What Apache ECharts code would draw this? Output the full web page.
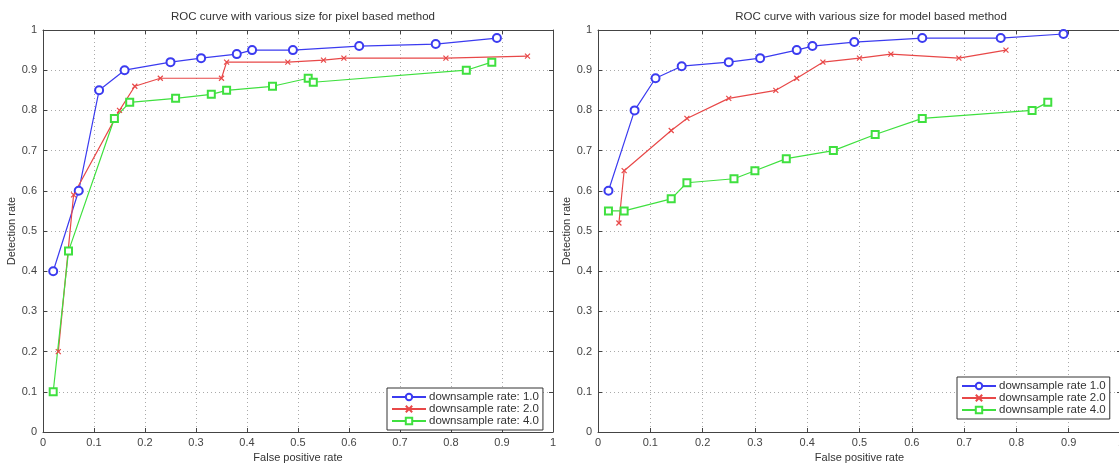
<!DOCTYPE html>
<html>
<head>
<meta charset="utf-8">
<script src="https://cdn.jsdelivr.net/npm/echarts@6/dist/echarts.min.js"></script>
<style>
html,body{margin:0;padding:0;background:#fff;overflow:hidden;}
#chart{width:1119px;height:464px;}
</style>
</head>
<body>
<div id="chart"></div>
<script>
// ---- Data ----
const xTicks = [0, 0.1, 0.2, 0.3, 0.4, 0.5, 0.6, 0.7, 0.8, 0.9, 1];
const yTicks = [0, 0.1, 0.2, 0.3, 0.4, 0.5, 0.6, 0.7, 0.8, 0.9, 1];

const leftTitle = "ROC curve with various size for pixel based method";
const rightTitle = "ROC curve with various size for model based method";
const leftNames = ["downsample rate: 1.0", "downsample rate: 2.0", "downsample rate: 4.0"];
const rightNames = ["downsample rate 1.0", "downsample rate 2.0", "downsample rate 4.0"];

// Pixel based method
const pixelFpr1 = [0.02, 0.07, 0.11, 0.16, 0.25, 0.31, 0.38, 0.41, 0.49, 0.62, 0.77, 0.89];
const pixelTpr1 = [0.40, 0.60, 0.85, 0.90, 0.92, 0.93, 0.94, 0.95, 0.95, 0.96, 0.965, 0.98];
const pixelFpr2 = [0.03, 0.06, 0.15, 0.18, 0.23, 0.35, 0.36, 0.48, 0.55, 0.59, 0.79, 0.95];
const pixelTpr2 = [0.20, 0.59, 0.80, 0.86, 0.88, 0.88, 0.92, 0.92, 0.925, 0.93, 0.93, 0.935];
const pixelFpr4 = [0.02, 0.05, 0.14, 0.17, 0.26, 0.33, 0.36, 0.45, 0.52, 0.53, 0.83, 0.88];
const pixelTpr4 = [0.10, 0.45, 0.78, 0.82, 0.83, 0.84, 0.85, 0.86, 0.88, 0.87, 0.90, 0.92];

// Model based method
const modelFpr1 = [0.02, 0.07, 0.11, 0.16, 0.25, 0.31, 0.38, 0.41, 0.49, 0.62, 0.77, 0.89];
const modelTpr1 = [0.60, 0.80, 0.88, 0.91, 0.92, 0.93, 0.95, 0.96, 0.97, 0.98, 0.98, 0.99];
const modelFpr2 = [0.04, 0.05, 0.14, 0.17, 0.25, 0.34, 0.38, 0.43, 0.50, 0.56, 0.69, 0.78];
const modelTpr2 = [0.52, 0.65, 0.75, 0.78, 0.83, 0.85, 0.88, 0.92, 0.93, 0.94, 0.93, 0.95];
const modelFpr4 = [0.02, 0.05, 0.14, 0.17, 0.26, 0.30, 0.36, 0.45, 0.53, 0.62, 0.83, 0.86];
const modelTpr4 = [0.55, 0.55, 0.58, 0.62, 0.63, 0.65, 0.68, 0.70, 0.74, 0.78, 0.80, 0.82];

// ---- Styling ----
const FONT = "Liberation Sans, Arial, sans-serif";
const BLUE = "#3b3bf0", RED = "#e84848", GREEN = "#3fe03f";
const X_SYMBOL = "path://M0,0L10,10M10,0L0,10";
const SQ_SYMBOL = "emptyRect";

function pairs(xs, ys) { return xs.map((x, i) => [x, ys[i]]); }

const chart = echarts.init(document.getElementById('chart'), null, {renderer: 'canvas'});

const grids = [
  {left: 43, width: 510, top: 30, bottom: 32, outerBoundsMode: 'none', containLabel: false},
  {left: 598, width: 523, top: 30, bottom: 32, outerBoundsMode: 'none', containLabel: false}
];

function fmt(list) {
  return v => { const r = Math.round(v * 10) / 10; return list.includes(r) ? String(r) : ''; };
}

function mainX(gi) {
  return {
    type: 'value', gridIndex: gi, min: 0, max: 1, interval: 0.1, position: 'bottom',
    name: 'False positive rate', nameLocation: 'middle', nameGap: 20,
    nameTextStyle: {fontFamily: FONT, fontSize: 11, color: '#333'},
    axisLine: {show: true, onZero: false, lineStyle: {color: '#444', width: 1}},
    axisTick: {show: true, inside: true, length: 4, lineStyle: {color: '#444'}},
    axisLabel: {fontFamily: FONT, fontSize: 11, color: '#444', margin: 5, formatter: fmt(xTicks)},
    splitLine: {show: true, lineStyle: {color: '#aaa', type: [1, 3], width: 1}}
  };
}
function topX(gi) {
  return {
    type: 'value', gridIndex: gi, min: 0, max: 1, interval: 0.1, position: 'top',
    axisLine: {show: true, onZero: false, lineStyle: {color: '#444', width: 1}},
    axisTick: {show: true, inside: true, length: 4, lineStyle: {color: '#444'}},
    axisLabel: {show: false}, splitLine: {show: false}
  };
}
function mainY(gi) {
  return {
    type: 'value', gridIndex: gi, min: 0, max: 1, interval: 0.1, position: 'left',
    name: 'Detection rate', nameLocation: 'middle', nameGap: 26, nameRotate: 90,
    nameTextStyle: {fontFamily: FONT, fontSize: 11, color: '#333'},
    axisLine: {show: true, onZero: false, lineStyle: {color: '#444', width: 1}},
    axisTick: {show: true, inside: true, length: 4, lineStyle: {color: '#444'}},
    axisLabel: {fontFamily: FONT, fontSize: 11, color: '#444', margin: 6, formatter: fmt(yTicks)},
    splitLine: {show: true, lineStyle: {color: '#aaa', type: [1, 3], width: 1}}
  };
}
function rightY(gi) {
  return {
    type: 'value', gridIndex: gi, min: 0, max: 1, interval: 0.1, position: 'right',
    axisLine: {show: true, onZero: false, lineStyle: {color: '#444', width: 1}},
    axisTick: {show: true, inside: true, length: 4, lineStyle: {color: '#444'}},
    axisLabel: {show: false}, splitLine: {show: false}
  };
}

function mkSeries(name, data, gi, color, symbol, size) {
  return {
    name: name, type: 'line', data: data,
    xAxisIndex: gi * 2, yAxisIndex: gi * 2,
    symbol: symbol, symbolSize: size, showSymbol: true,
    lineStyle: {color: color, width: 1.2},
    itemStyle: {color: color, borderColor: color, borderWidth: 1.2},
    emphasis: {disabled: true}, animation: false, z: 3
  };
}

function mkLegend(names, left, top) {
  return {
    data: names, orient: 'vertical', left: left, top: top,
    itemWidth: 34, itemHeight: 8, itemGap: 0,
    padding: [3, 4, 3, 4], borderColor: '#333', borderWidth: 1, backgroundColor: '#fff',
    textStyle: {fontFamily: FONT, fontSize: 11.5, lineHeight: 12, color: '#333', padding: [0, 0, 0, -2]},
    selectedMode: false
  };
}

const option = {
  backgroundColor: '#fff',
  animation: false,
  title: [
    {text: leftTitle, left: 298, top: 6, textAlign: 'center',
     textStyle: {fontFamily: FONT, fontSize: 11.5, fontWeight: 'normal', color: '#333'}},
    {text: rightTitle, left: 866, top: 6, textAlign: 'center',
     textStyle: {fontFamily: FONT, fontSize: 11.5, fontWeight: 'normal', color: '#333'}}
  ],
  grid: grids,
  xAxis: [mainX(0), topX(0), mainX(1), topX(1)],
  yAxis: [mainY(0), rightY(0), mainY(1), rightY(1)],
  legend: [mkLegend(leftNames, 387, 388), mkLegend(rightNames, 957, 377)],
  series: [
    mkSeries(leftNames[0], pairs(pixelFpr1, pixelTpr1), 0, BLUE, 'emptyCircle', 8),
    mkSeries(leftNames[1], pairs(pixelFpr2, pixelTpr2), 0, RED, X_SYMBOL, 5),
    mkSeries(leftNames[2], pairs(pixelFpr4, pixelTpr4), 0, GREEN, SQ_SYMBOL, 7),
    mkSeries(rightNames[0], pairs(modelFpr1, modelTpr1), 1, BLUE, 'emptyCircle', 8),
    mkSeries(rightNames[1], pairs(modelFpr2, modelTpr2), 1, RED, X_SYMBOL, 5),
    mkSeries(rightNames[2], pairs(modelFpr4, modelTpr4), 1, GREEN, SQ_SYMBOL, 7)
  ]
};
chart.setOption(option);
</script>
</body>
</html>
